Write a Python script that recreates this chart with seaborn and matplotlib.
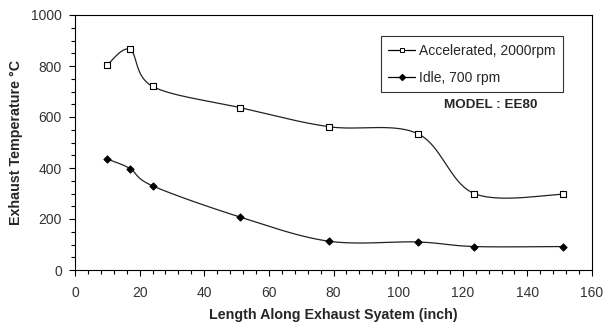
import numpy as np
import pandas as pd
import seaborn as sns
import matplotlib.pyplot as plt
from matplotlib.lines import Line2D

length = [10, 17, 24, 51, 78.5, 106, 123.5, 151]
accel = [805, 865, 720, 637, 562, 535, 300, 297]
idle = [435, 398, 330, 208, 113, 110, 92, 92]


def smooth(x, y, n=40):
    # Excel-style smoothed line (Catmull-Rom bezier through the points)
    x = np.asarray(x, float)
    y = np.asarray(y, float)
    pts = np.column_stack([x, y])
    out = []
    for i in range(len(pts) - 1):
        p0 = pts[i - 1] if i > 0 else pts[i]
        p1 = pts[i]
        p2 = pts[i + 1]
        p3 = pts[i + 2] if i + 2 < len(pts) else pts[i + 1]
        c1 = p1 + (p2 - p0) / 6
        c2 = p2 - (p3 - p1) / 6
        t = np.linspace(0, 1, n)[:, None]
        seg = ((1 - t) ** 3) * p1 + 3 * ((1 - t) ** 2) * t * c1 + 3 * (1 - t) * t ** 2 * c2 + t ** 3 * p2
        out.append(seg if i == 0 else seg[1:])
    s = np.vstack(out)
    return s[:, 0], s[:, 1]


sns.set_style("white")
plt.rcParams['font.family'] = ['Liberation Sans', 'DejaVu Sans']

fig = plt.figure(figsize=(6.03, 3.27), dpi=100)
ax = fig.add_axes([75 / 603, 57 / 327, 517 / 603, 255 / 327])

for ys, mk, fc in [(accel, 's', 'white'), (idle, 'D', 'black')]:
    sx, sy = smooth(length, ys)
    curve = pd.DataFrame({'x': sx, 'y': sy})
    sns.lineplot(data=curve, x='x', y='y', ax=ax, color='#222222', lw=0.9, sort=False, estimator=None)
    pts = pd.DataFrame({'x': length, 'y': ys})
    sns.scatterplot(data=pts, x='x', y='y', ax=ax, marker=mk, s=16 if mk == 's' else 13,
                    facecolor=fc, edgecolor='black', linewidth=0.8, zorder=3)

ax.set_xlim(0, 160)
ax.set_ylim(0, 1000)
ax.set_xticks(np.arange(0, 161, 20))
ax.set_yticks(np.arange(0, 1001, 200))
ax.set_xticks(np.arange(0, 161, 4), minor=True)
ax.set_yticks(np.arange(0, 1001, 50), minor=True)
ax.tick_params(axis='both', which='major', direction='out', length=4.5, width=0.8, labelsize=10,
               colors='black', labelcolor='#333333')
ax.tick_params(axis='both', which='minor', direction='out', length=3, width=0.8, colors='black')
ax.tick_params(axis='x', which='major', pad=7)
ax.tick_params(axis='y', which='major', pad=5)
ax.tick_params(axis='x', which='both', bottom=True)
ax.tick_params(axis='y', which='both', left=True)
for sp in ax.spines.values():
    sp.set_color('black')
    sp.set_linewidth(0.8)

ax.set_xlabel('Length Along Exhaust Syatem (inch)', fontsize=10.3, fontweight='bold', labelpad=6)
ax.set_ylabel('Exhaust Temperature °C', fontsize=10.3, fontweight='bold', labelpad=6)

handles = [
    Line2D([], [], color='black', lw=0.9, marker='s', markersize=3.5, markerfacecolor='white',
           markeredgecolor='black', markeredgewidth=0.7),
    Line2D([], [], color='black', lw=0.9, marker='D', markersize=3, markerfacecolor='black',
           markeredgecolor='black'),
]
leg = ax.legend(handles, ['Accelerated, 2000rpm', 'Idle, 700 rpm'], loc='upper right',
                bbox_to_anchor=(0.944, 0.918), fontsize=10, frameon=True, fancybox=False,
                handlelength=1.95, handletextpad=0.25, borderpad=0.55, labelspacing=0.95,
                borderaxespad=0)
leg.get_frame().set_edgecolor('black')
leg.get_frame().set_linewidth(0.8)

ax.text(0.805, 0.647, 'MODEL : EE80', transform=ax.transAxes, ha='center', va='center',
        fontsize=9.7, fontweight='bold')

fig.savefig('out.png', dpi=100)
